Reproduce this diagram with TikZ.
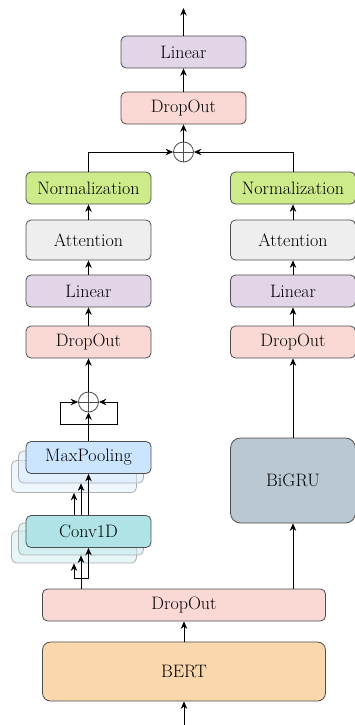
\documentclass[tikz,border=0pt]{standalone}
\usepackage{fontspec}
\setmainfont{Latin Modern Roman}
\usetikzlibrary{arrows.meta,positioning}

\definecolor{cLinear}{HTML}{E1D5E7}
\definecolor{cDrop}{HTML}{FAD9D5}
\definecolor{cNorm}{HTML}{CDEB8B}
\definecolor{cAtt}{HTML}{EEEEEE}
\definecolor{cPool}{HTML}{CCE5FF}
\definecolor{cConv}{HTML}{B0E3E6}
\definecolor{cGru}{HTML}{BAC8D3}
\definecolor{cBert}{HTML}{FAD7AC}
\definecolor{cEdge}{HTML}{4D4D4D}

\tikzset{
  blk/.style={draw=cEdge, line width=0.8pt, rounded corners=5pt,
    minimum width=125pt, minimum height=32pt, inner sep=0pt,
    font=\fontsize{18}{21}\selectfont},
  ghost/.style={blk, draw=cEdge!45, fill opacity=0.55},
  arr/.style={-{Stealth[length=7.5pt,width=6.5pt]}, line width=0.8pt},
  ln/.style={line width=0.8pt},
  plus/.style={circle, draw=cEdge, line width=0.8pt, minimum size=20pt, inner sep=0pt,
    path picture={\draw[cEdge, line width=0.7pt]
      (path picture bounding box.north) -- (path picture bounding box.south)
      (path picture bounding box.west) -- (path picture bounding box.east);}},
}

\begin{document}
\begin{tikzpicture}[x=1pt,y=-1pt]
\useasboundingbox (0,0) rectangle (355,725);

% output head
\node[blk, fill=cLinear] (lin) at (183.5,52) {Linear};
\node[blk, fill=cDrop] (dro) at (183.5,108) {DropOut};
\node[plus] (sum) at (183.5,152) {};
\coordinate (out) at (183.5,8);

% left branch
\node[blk, fill=cNorm] (nL) at (88.5,188) {Normalization};
\node[blk, fill=cAtt, minimum height=40pt] (aL) at (88.5,240) {Attention};
\node[blk, fill=cLinear] (lL) at (88.5,291) {Linear};
\node[blk, fill=cDrop] (dL) at (88.5,342) {DropOut};
\node[plus] (sumL) at (88.5,402) {};

% stacked MaxPooling
\node[ghost, fill=cPool!60] (mp3) at (74,476.5) {};
\node[ghost, fill=cPool!80] (mp2) at (81,467) {};
\node[blk, fill=cPool] (mp1) at (88.5,457.5) {MaxPooling};

% stacked Conv1D
\node[ghost, fill=cConv!55] (cv3) at (74,547) {};
\node[ghost, fill=cConv!75] (cv2) at (81,539) {};
\node[blk, fill=cConv] (cv1) at (88.5,531.5) {Conv1D};

% right branch
\node[blk, fill=cNorm] (nR) at (293,188) {Normalization};
\node[blk, fill=cAtt, minimum height=40pt] (aR) at (293,240) {Attention};
\node[blk, fill=cLinear] (lR) at (293,291) {Linear};
\node[blk, fill=cDrop] (dR) at (293,342) {DropOut};
\node[blk, fill=cGru, minimum height=85pt, rounded corners=10pt] (gru) at (293,480.5) {BiGRU};

% encoder
\node[blk, fill=cDrop, minimum width=283pt] (dB) at (184,605) {DropOut};
\node[blk, fill=cBert, minimum width=283pt, minimum height=59pt, rounded corners=8pt] (bert) at (184,671.5) {BERT};
\coordinate (in) at (184,725);

% head connections
\draw[arr] (lin.north) -- (out);
\draw[arr] (dro.north) -- (lin.south);
\draw[arr] (sum.north) -- (dro.south);
\draw[arr] (nL.north) |- (sum.west);
\draw[arr] (nR.north) |- (sum.east);

% left chain
\draw[arr] (aL.north) -- (nL.south);
\draw[arr] (lL.north) -- (aL.south);
\draw[arr] (dL.north) -- (lL.south);
\draw[arr] (sumL.north) -- (dL.south);

% residual loop around the left sum
\coordinate (lpL) at (60,424);
\coordinate (lpR) at (117,424);
\draw[arr] (mp1.north) -- (sumL.south);
\draw[arr] (88.5,424) -- (lpL) |- (sumL.west);
\draw[arr] (88.5,424) -- (lpR) |- (sumL.east);

% Conv1D -> MaxPooling
\draw[arr] (cv1.north -| 74,0) -- (mp3.south -| 74,0);
\draw[arr] (cv1.north -| 81,0) -- (mp2.south -| 81,0);
\draw[arr] (cv1.north) -- (mp1.south);

% DropOut -> Conv1D fork
\coordinate (fkL) at (74,578);
\coordinate (fkR) at (88.5,578);
\draw[arr] (dB.north -| 81,0) -- (cv2.south -| 81,0);
\draw[ln] (fkL) -- (fkR);
\draw[arr] (fkL) -- (cv3.south -| 74,0);
\draw[arr] (fkR) -- (cv1.south);

% right chain
\draw[arr] (aR.north) -- (nR.south);
\draw[arr] (lR.north) -- (aR.south);
\draw[arr] (dR.north) -- (lR.south);
\draw[arr] (gru.north) -- (dR.south);
\draw[arr] (dB.north -| gru.south) -- (gru.south);

% encoder connections
\draw[arr] (bert.north) -- (dB.south);
\draw[arr] (in) -- (bert.south);
\end{tikzpicture}
\end{document}
